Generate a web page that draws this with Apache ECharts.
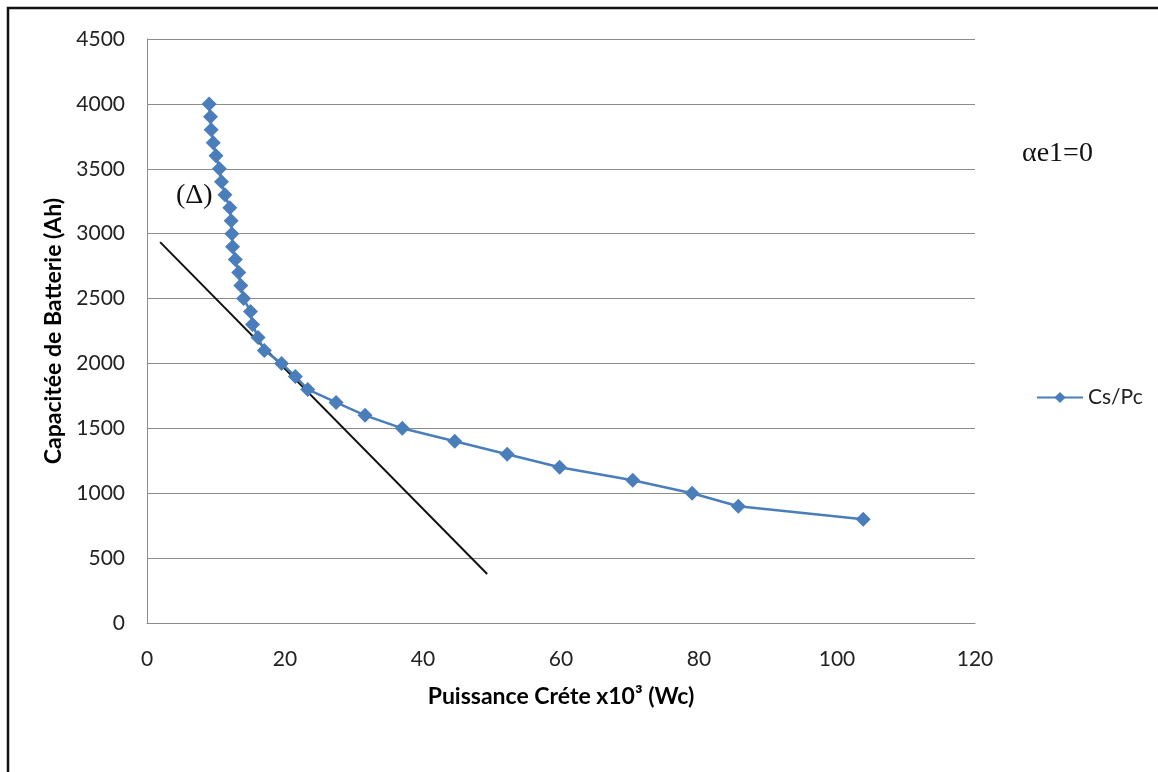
<!DOCTYPE html>
<html>
<head>
<meta charset="utf-8">
<script src="https://cdn.jsdelivr.net/npm/echarts@6/dist/echarts.min.js"></script>
<style>
  html, body { margin: 0; padding: 0; background: #fff; }
  #chart { width: 1158px; height: 772px; }
</style>
</head>
<body>
<div id="chart"></div>
<script>
// Peak power (x10^3 Wc) against battery capacity (Ah)
const power = [9.0, 9.2, 9.3, 9.6, 10.0, 10.5, 10.8, 11.3, 12.0, 12.2, 12.3, 12.4, 12.8, 13.3, 13.6, 14.0,
               15.0, 15.3, 16.1, 17.0, 19.5, 21.5, 23.3, 27.4, 31.6, 37.0, 44.6, 52.2, 59.8, 70.4, 79.0, 85.7, 103.8];
const capacity = [4000, 3900, 3800, 3700, 3600, 3500, 3400, 3300, 3200, 3100, 3000, 2900, 2800, 2700, 2600, 2500,
                  2400, 2300, 2200, 2100, 2000, 1900, 1800, 1700, 1600, 1500, 1400, 1300, 1200, 1100, 1000, 900, 800];

// Tangent line (Δ)
const tangentX = [1.9, 49.3];
const tangentY = [2935, 378];

const seriesName = 'Cs/Pc';
const xTitle = 'Puissance Créte x10³ (Wc)';
const yTitle = 'Capacitée de Batterie (Ah)';
const deltaLabel = '(Δ)';
const alphaLabel = 'αe1=0';

const blue = '#4a7ebb';
const gridGray = '#8c8c8c';
const sansFont = 'Lato, "Open Sans", sans-serif';
const serifFont = '"Liberation Serif", "DejaVu Serif", serif';

const chart = echarts.init(document.getElementById('chart'), null, { renderer: 'canvas' });

chart.setOption({
  animation: false,
  backgroundColor: '#fff',
  grid: { left: 147, right: 183, top: 39, bottom: 149 },
  xAxis: {
    type: 'value', min: 0, max: 120, interval: 20,
    name: xTitle, nameLocation: 'middle', nameGap: 62,
    nameTextStyle: { fontFamily: sansFont, fontWeight: 'bold', fontSize: 23, color: '#000' },
    axisLine: { show: true, lineStyle: { color: gridGray, width: 1 } },
    axisTick: { show: false },
    axisLabel: { fontFamily: sansFont, fontSize: 21, color: '#222', margin: 26 },
    splitLine: { show: false }
  },
  yAxis: {
    type: 'value', min: 0, max: 4500, interval: 500,
    name: yTitle, nameLocation: 'middle', nameGap: 76, nameRotate: 90,
    nameTextStyle: { fontFamily: sansFont, fontWeight: 'bold', fontSize: 23, color: '#000' },
    axisLine: { show: true, lineStyle: { color: gridGray, width: 1 } },
    axisTick: { show: false },
    axisLabel: { fontFamily: sansFont, fontSize: 21, color: '#222', margin: 22, formatter: v => String(v) },
    splitLine: { show: true, lineStyle: { color: gridGray, width: 1 } }
  },
  legend: {
    left: 1031, top: 382,
    itemWidth: 46, itemHeight: 14, itemGap: 6,
    textStyle: { fontFamily: sansFont, fontSize: 21, color: '#222' },
    data: [seriesName]
  },
  series: [
    {
      name: seriesName,
      type: 'line',
      data: power.map((p, i) => [p, capacity[i]]),
      symbol: 'diamond', symbolSize: 15,
      itemStyle: { color: blue },
      lineStyle: { color: blue, width: 2.5 },
      z: 3
    },
    {
      name: 'tangent',
      type: 'line',
      data: tangentX.map((x, i) => [x, tangentY[i]]),
      symbol: 'none',
      lineStyle: { color: '#111', width: 2 },
      z: 2
    }
  ],
  graphic: [
    {
      type: 'polyline',
      shape: { points: [[8, 780], [8, 8], [1170, 8]] },
      style: { stroke: '#111', lineWidth: 2.5, fill: null }
    },
    {
      type: 'text', left: 176, top: 182,
      style: { text: deltaLabel, font: '28px ' + serifFont, fill: '#111' }
    },
    {
      type: 'text', left: 1022, top: 140,
      style: { text: alphaLabel, font: '28px ' + serifFont, fill: '#111' }
    }
  ]
});
</script>
</body>
</html>
